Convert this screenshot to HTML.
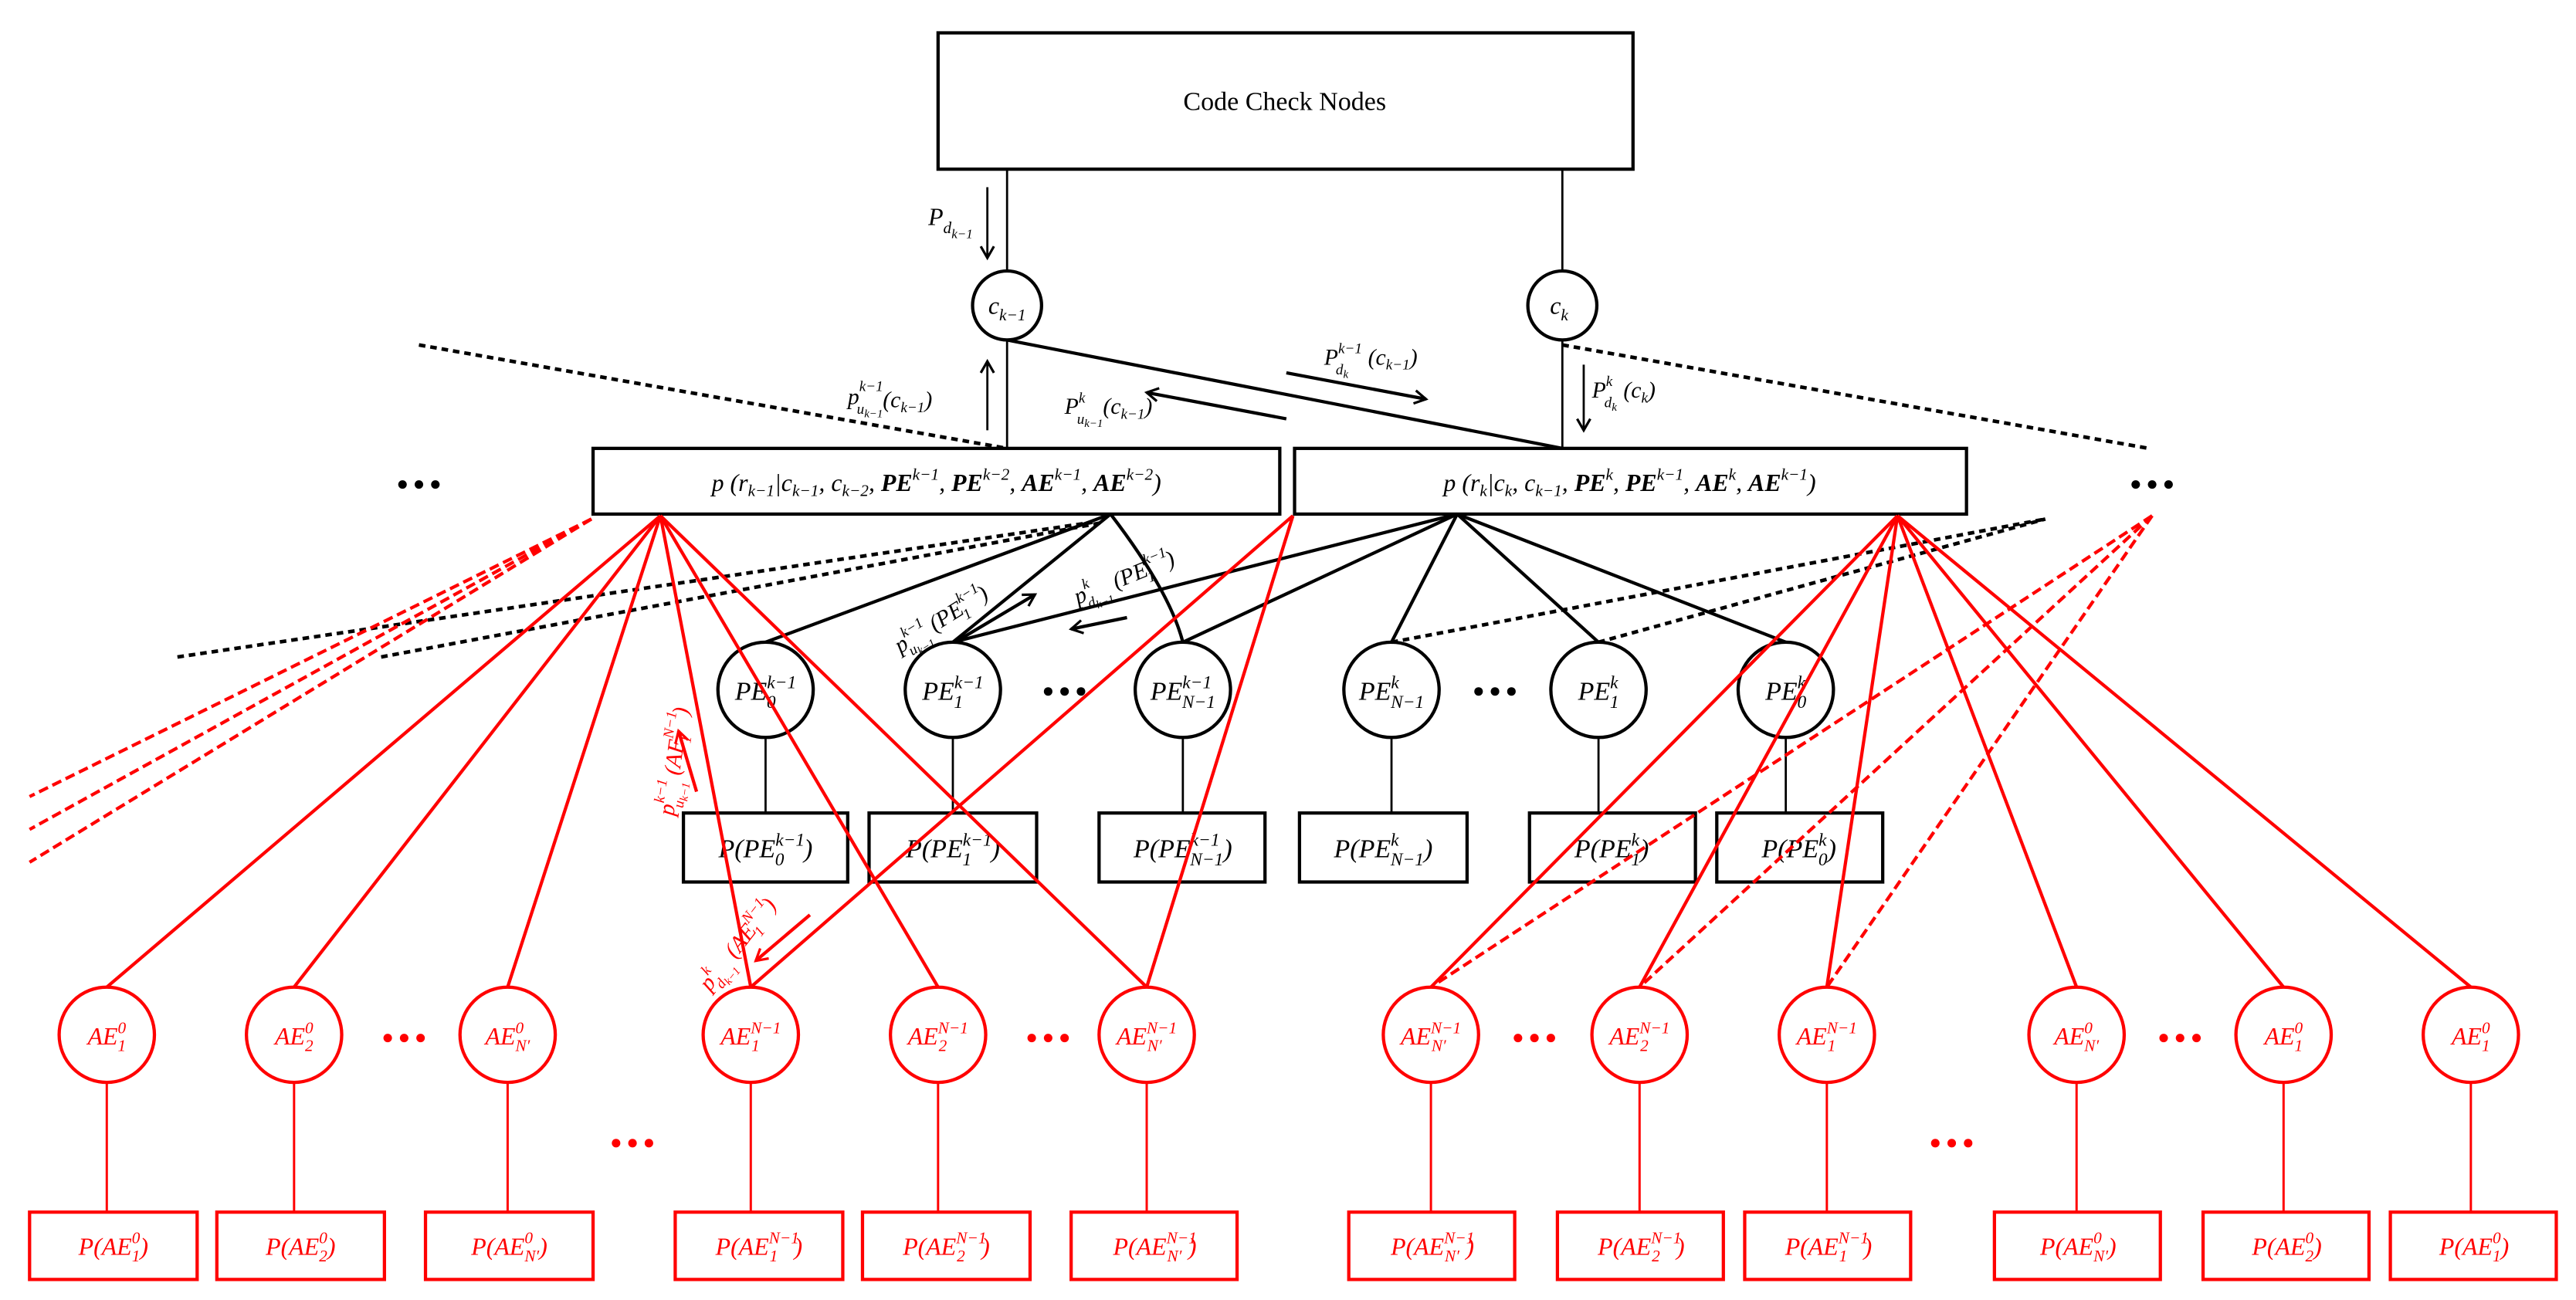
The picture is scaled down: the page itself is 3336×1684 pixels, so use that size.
<!DOCTYPE html>
<html><head><meta charset="utf-8"><style>
html,body{margin:0;padding:0;background:#fff;}
svg{display:block;}
text{font-family:"Liberation Serif",serif;}
.i{font-style:italic;}
.b{fill:none;stroke:#000;stroke-width:2;}
.t{fill:none;stroke:#000;stroke-width:1.3;}
.r{fill:none;stroke:#f00;stroke-width:2;}
.rt{fill:none;stroke:#f00;stroke-width:1.4;}
.d{fill:none;stroke:#000;stroke-width:2.2;stroke-dasharray:4,3;}
.rd{fill:none;stroke:#f00;stroke-width:2;stroke-dasharray:6,3;}
.bk{fill:#000;}
.rf{fill:#f00;}
</style></head><body>
<svg width="3336" height="1684" viewBox="0 0 1568 791.5" preserveAspectRatio="none" xmlns="http://www.w3.org/2000/svg">
<defs>
<marker id="ab" markerWidth="10" markerHeight="10" refX="8" refY="5" orient="auto" markerUnits="userSpaceOnUse"><path d="M1,1 L8,5 L1,9" fill="none" stroke="#000" stroke-width="1.5"/></marker>
<marker id="ar" markerWidth="10" markerHeight="10" refX="8" refY="5" orient="auto" markerUnits="userSpaceOnUse"><path d="M1,1 L8,5 L1,9" fill="none" stroke="#f00" stroke-width="1.5"/></marker>
</defs>

<!-- Code Check Nodes -->
<rect x="571" y="20" width="423" height="83" class="b"/>
<text x="782" y="67" font-size="16" text-anchor="middle">Code Check Nodes</text>
<line x1="613" y1="103" x2="613" y2="165" class="t"/>
<line x1="951" y1="103" x2="951" y2="165" class="t"/>
<circle cx="613" cy="186" r="21" class="b"/>
<circle cx="951" cy="186" r="21" class="b"/>
<text x="613" y="191" font-size="15" text-anchor="middle" class="i">c<tspan font-size="10" dy="4">k−1</tspan></text>
<text x="949" y="191" font-size="15" text-anchor="middle" class="i">c<tspan font-size="10" dy="4">k</tspan></text>

<line x1="601" y1="114" x2="601" y2="157" class="t" marker-end="url(#ab)"/>
<text x="565" y="137" font-size="15" class="i">P<tspan font-size="10" dy="5">d<tspan font-size="8" dy="3">k−1</tspan></tspan></text>

<line x1="613" y1="207" x2="613" y2="273" class="t"/>
<line x1="951" y1="207" x2="951" y2="273" class="t"/>
<line x1="613" y1="207" x2="951" y2="273" class="b"/>

<line x1="601" y1="262" x2="601" y2="220" class="t" marker-end="url(#ab)"/>
<text x="516" y="246" font-size="14" class="i">p<tspan font-size="9" dy="-8">k−1</tspan><tspan font-size="9" dx="-16" dy="14">u<tspan font-size="7" dy="2">k−1</tspan></tspan><tspan dy="-6">(c<tspan font-size="9" dy="3">k−1</tspan><tspan dy="-3">)</tspan></tspan></text>

<line x1="783" y1="227" x2="868" y2="243" class="b" marker-end="url(#ab)"/>
<text x="806" y="222" font-size="14" class="i">P<tspan font-size="9" dy="-7">k−1</tspan><tspan font-size="9" dx="-16" dy="13">d<tspan font-size="7" dy="2">k</tspan></tspan><tspan dx="12" dy="-8">(c<tspan font-size="9" dy="3">k−1</tspan><tspan dy="-3">)</tspan></tspan></text>

<line x1="783" y1="255" x2="698" y2="239" class="b" marker-end="url(#ab)"/>
<text x="648" y="252" font-size="14" class="i">P<tspan font-size="9" dy="-7">k</tspan><tspan font-size="9" dx="-5" dy="13">u<tspan font-size="7" dy="2">k−1</tspan></tspan><tspan dy="-8">(c<tspan font-size="9" dy="3">k−1</tspan><tspan dy="-3">)</tspan></tspan></text>

<line x1="964" y1="222" x2="964" y2="262" class="t" marker-end="url(#ab)"/>
<text x="969" y="242" font-size="14" class="i">P<tspan font-size="9" dy="-7">k</tspan><tspan font-size="9" dx="-5" dy="13">d<tspan font-size="7" dy="2">k</tspan></tspan><tspan dx="4" dy="-8">(c<tspan font-size="9" dy="3">k</tspan><tspan dy="-3">)</tspan></tspan></text>

<line x1="255" y1="210" x2="613" y2="273" class="d"/>
<line x1="951" y1="210" x2="1308" y2="273" class="d"/>

<!-- factor boxes -->
<rect x="361" y="273" width="418" height="40" class="b"/>
<rect x="788" y="273" width="409" height="40" class="b"/>
<text x="570" y="299" font-size="15" text-anchor="middle" class="i">p (r<tspan font-size="10" dy="3">k−1</tspan><tspan dy="-3">|c</tspan><tspan font-size="10" dy="3">k−1</tspan><tspan dy="-3">, c</tspan><tspan font-size="10" dy="3">k−2</tspan><tspan dy="-3">, </tspan><tspan font-weight="bold">PE</tspan><tspan font-size="10" dy="-7">k−1</tspan><tspan dy="7">, </tspan><tspan font-weight="bold">PE</tspan><tspan font-size="10" dy="-7">k−2</tspan><tspan dy="7">, </tspan><tspan font-weight="bold">AE</tspan><tspan font-size="10" dy="-7">k−1</tspan><tspan dy="7">, </tspan><tspan font-weight="bold">AE</tspan><tspan font-size="10" dy="-7">k−2</tspan><tspan dy="7">)</tspan></text>
<text x="992" y="299" font-size="15" text-anchor="middle" class="i">p (r<tspan font-size="10" dy="3">k</tspan><tspan dy="-3">|c</tspan><tspan font-size="10" dy="3">k</tspan><tspan dy="-3">, c</tspan><tspan font-size="10" dy="3">k−1</tspan><tspan dy="-3">, </tspan><tspan font-weight="bold">PE</tspan><tspan font-size="10" dy="-7">k</tspan><tspan dy="7">, </tspan><tspan font-weight="bold">PE</tspan><tspan font-size="10" dy="-7">k−1</tspan><tspan dy="7">, </tspan><tspan font-weight="bold">AE</tspan><tspan font-size="10" dy="-7">k</tspan><tspan dy="7">, </tspan><tspan font-weight="bold">AE</tspan><tspan font-size="10" dy="-7">k−1</tspan><tspan dy="7">)</tspan></text>

<g class="bk"><circle cx="245" cy="295" r="2.6"/><circle cx="255" cy="295" r="2.6"/><circle cx="265" cy="295" r="2.6"/>
<circle cx="1300" cy="295" r="2.6"/><circle cx="1310" cy="295" r="2.6"/><circle cx="1320" cy="295" r="2.6"/></g>

<!-- black dashed lower -->
<line x1="108" y1="400" x2="665" y2="318" class="d"/>
<line x1="232" y1="400" x2="672" y2="318" class="d"/>
<line x1="847" y1="391" x2="1245" y2="316" class="d"/>
<line x1="973" y1="391" x2="1245" y2="316" class="d"/>

<!-- black connections to PE -->
<line x1="676" y1="313" x2="466" y2="391" class="b"/>
<line x1="676" y1="313" x2="580" y2="391" class="b"/>
<path d="M676,313 Q712,360 720,391" class="b"/>
<line x1="887" y1="313" x2="580" y2="391" class="b"/>
<line x1="887" y1="313" x2="720" y2="391" class="b"/>
<line x1="887" y1="313" x2="847" y2="391" class="b"/>
<line x1="887" y1="313" x2="973" y2="391" class="b"/>
<line x1="887" y1="313" x2="1087" y2="391" class="b"/>

<line x1="583" y1="390" x2="630" y2="362" class="b" marker-end="url(#ab)"/>
<text x="0" y="0" font-size="14" class="i" transform="translate(548,398) rotate(-32)">p<tspan font-size="9" dy="-7">k−1</tspan><tspan font-size="9" dx="-16" dy="12">u<tspan font-size="7" dy="2">k−1</tspan></tspan><tspan dy="-7"> (PE</tspan><tspan font-size="9" dy="-7">k−1</tspan><tspan font-size="9" dx="-16" dy="11">1</tspan><tspan dx="10" dy="-4">)</tspan></text>
<line x1="686" y1="376" x2="652" y2="383" class="b" marker-end="url(#ab)"/>
<text x="0" y="0" font-size="14" class="i" transform="translate(656,368) rotate(-22)">p<tspan font-size="9" dy="-7">k</tspan><tspan font-size="9" dx="-5" dy="12">d<tspan font-size="7" dy="2">k−1</tspan></tspan><tspan dy="-7"> (PE</tspan><tspan font-size="9" dy="-7">k−1</tspan><tspan font-size="9" dx="-16" dy="11">1</tspan><tspan dx="10" dy="-4">)</tspan></text>

<!-- PE circles -->
<g>
<circle cx="466" cy="420" r="29" class="b"/><circle cx="580" cy="420" r="29" class="b"/><circle cx="720" cy="420" r="29" class="b"/>
<circle cx="847" cy="420" r="29" class="b"/><circle cx="973" cy="420" r="29" class="b"/><circle cx="1087" cy="420" r="29" class="b"/>
</g>
<g font-size="16" class="i" text-anchor="middle">
<text x="466" y="426">PE<tspan font-size="11" dy="-7">k−1</tspan><tspan font-size="11" dx="-18" dy="12">0</tspan></text>
<text x="580" y="426">PE<tspan font-size="11" dy="-7">k−1</tspan><tspan font-size="11" dx="-18" dy="12">1</tspan></text>
<text x="720" y="426">PE<tspan font-size="11" dy="-7">k−1</tspan><tspan font-size="11" dx="-18" dy="12">N−1</tspan></text>
<text x="847" y="426">PE<tspan font-size="11" dy="-7">k</tspan><tspan font-size="11" dx="-5" dy="12">N−1</tspan></text>
<text x="973" y="426">PE<tspan font-size="11" dy="-7">k</tspan><tspan font-size="11" dx="-5" dy="12">1</tspan></text>
<text x="1087" y="426">PE<tspan font-size="11" dy="-7">k</tspan><tspan font-size="11" dx="-5" dy="12">0</tspan></text>
</g>
<g class="bk"><circle cx="638" cy="421" r="2.6"/><circle cx="648" cy="421" r="2.6"/><circle cx="658" cy="421" r="2.6"/>
<circle cx="900" cy="421" r="2.6"/><circle cx="910" cy="421" r="2.6"/><circle cx="920" cy="421" r="2.6"/></g>

<g class="t">
<line x1="466" y1="449" x2="466" y2="495"/><line x1="580" y1="449" x2="580" y2="495"/><line x1="720" y1="449" x2="720" y2="495"/>
<line x1="847" y1="449" x2="847" y2="495"/><line x1="973" y1="449" x2="973" y2="495"/><line x1="1087" y1="449" x2="1087" y2="495"/>
</g>
<g class="b">
<rect x="416" y="495" width="100" height="42"/><rect x="529" y="495" width="102" height="42"/><rect x="669" y="495" width="101" height="42"/>
<rect x="791" y="495" width="102" height="42"/><rect x="931" y="495" width="101" height="42"/><rect x="1045" y="495" width="101" height="42"/>
</g>
<g font-size="16" class="i" text-anchor="middle">
<text x="466" y="522">P(PE<tspan font-size="11" dy="-7">k−1</tspan><tspan font-size="11" dx="-18" dy="12">0</tspan><tspan dx="12" dy="-5">)</tspan></text>
<text x="580" y="522">P(PE<tspan font-size="11" dy="-7">k−1</tspan><tspan font-size="11" dx="-18" dy="12">1</tspan><tspan dx="12" dy="-5">)</tspan></text>
<text x="720" y="522">P(PE<tspan font-size="11" dy="-7">k−1</tspan><tspan font-size="11" dx="-18" dy="12">N−1</tspan><tspan dy="-5">)</tspan></text>
<text x="842" y="522">P(PE<tspan font-size="11" dy="-7">k</tspan><tspan font-size="11" dx="-5" dy="12">N−1</tspan><tspan dy="-5">)</tspan></text>
<text x="981" y="522">P(PE<tspan font-size="11" dy="-7">k</tspan><tspan font-size="11" dx="-5" dy="12">1</tspan><tspan dy="-5">)</tspan></text>
<text x="1095" y="522">P(PE<tspan font-size="11" dy="-7">k</tspan><tspan font-size="11" dx="-5" dy="12">0</tspan><tspan dy="-5">)</tspan></text>
</g>

<!-- red connections -->
<g class="r">
<line x1="402" y1="314" x2="65" y2="601"/><line x1="402" y1="314" x2="179" y2="601"/><line x1="402" y1="314" x2="309" y2="601"/>
<line x1="402" y1="314" x2="457" y2="601"/><line x1="402" y1="314" x2="571" y2="601"/><line x1="402" y1="314" x2="698" y2="601"/>
<line x1="787" y1="314" x2="457" y2="601"/><line x1="787" y1="314" x2="698" y2="601"/>
<line x1="1155" y1="314" x2="871" y2="601"/><line x1="1155" y1="314" x2="998" y2="601"/><line x1="1155" y1="314" x2="1112" y2="601"/>
<line x1="1155" y1="314" x2="1264" y2="601"/><line x1="1155" y1="314" x2="1390" y2="601"/><line x1="1155" y1="314" x2="1504" y2="601"/>
</g>
<g class="rd">
<line x1="1310" y1="314" x2="871" y2="601"/><line x1="1310" y1="314" x2="998" y2="601"/><line x1="1310" y1="314" x2="1112" y2="601"/>
<line x1="360" y1="316" x2="18" y2="485"/><line x1="360" y1="316" x2="18" y2="505"/><line x1="360" y1="316" x2="18" y2="525"/>
</g>

<line x1="424" y1="482" x2="413" y2="445" class="r" marker-end="url(#ar)"/>
<text x="0" y="0" font-size="14" class="i" fill="#f00" transform="translate(410,497) rotate(-82)">p<tspan font-size="9" dy="-7">k−1</tspan><tspan font-size="9" dx="-16" dy="12">u<tspan font-size="7" dy="2">k−1</tspan></tspan><tspan dy="-7"> (AE</tspan><tspan font-size="9" dy="-7">N−1</tspan><tspan font-size="9" dx="-18" dy="11">1</tspan><tspan dx="12" dy="-4">)</tspan></text>
<line x1="493" y1="557" x2="460" y2="585" class="r" marker-end="url(#ar)"/>
<text x="0" y="0" font-size="14" class="i" fill="#f00" transform="translate(432,604) rotate(-52)">p<tspan font-size="9" dy="-7">k</tspan><tspan font-size="9" dx="-5" dy="12">d<tspan font-size="7" dy="2">k−1</tspan></tspan><tspan dy="-7"> (AE</tspan><tspan font-size="9" dy="-7">N−1</tspan><tspan font-size="9" dx="-18" dy="11">1</tspan><tspan dx="12" dy="-4">)</tspan></text>

<!-- AE circles -->
<g class="r">
<circle cx="65" cy="630" r="29"/><circle cx="179" cy="630" r="29"/><circle cx="309" cy="630" r="29"/>
<circle cx="457" cy="630" r="29"/><circle cx="571" cy="630" r="29"/><circle cx="698" cy="630" r="29"/>
<circle cx="871" cy="630" r="29"/><circle cx="998" cy="630" r="29"/><circle cx="1112" cy="630" r="29"/>
<circle cx="1264" cy="630" r="29"/><circle cx="1390" cy="630" r="29"/><circle cx="1504" cy="630" r="29"/>
</g>
<g font-size="15" class="i" text-anchor="middle" fill="#f00">
<text x="65" y="636">AE<tspan font-size="10" dy="-7">0</tspan><tspan font-size="10" dx="-5" dy="11">1</tspan></text>
<text x="179" y="636">AE<tspan font-size="10" dy="-7">0</tspan><tspan font-size="10" dx="-5" dy="11">2</tspan></text>
<text x="309" y="636">AE<tspan font-size="10" dy="-7">0</tspan><tspan font-size="10" dx="-5" dy="11">N′</tspan></text>
<text x="457" y="636">AE<tspan font-size="10" dy="-7">N−1</tspan><tspan font-size="10" dx="-18" dy="11">1</tspan><tspan dx="10"> </tspan></text>
<text x="571" y="636">AE<tspan font-size="10" dy="-7">N−1</tspan><tspan font-size="10" dx="-18" dy="11">2</tspan><tspan dx="10"> </tspan></text>
<text x="698" y="636">AE<tspan font-size="10" dy="-7">N−1</tspan><tspan font-size="10" dx="-18" dy="11">N′</tspan><tspan dx="4"> </tspan></text>
<text x="871" y="636">AE<tspan font-size="10" dy="-7">N−1</tspan><tspan font-size="10" dx="-18" dy="11">N′</tspan><tspan dx="4"> </tspan></text>
<text x="998" y="636">AE<tspan font-size="10" dy="-7">N−1</tspan><tspan font-size="10" dx="-18" dy="11">2</tspan><tspan dx="10"> </tspan></text>
<text x="1112" y="636">AE<tspan font-size="10" dy="-7">N−1</tspan><tspan font-size="10" dx="-18" dy="11">1</tspan><tspan dx="10"> </tspan></text>
<text x="1264" y="636">AE<tspan font-size="10" dy="-7">0</tspan><tspan font-size="10" dx="-5" dy="11">N′</tspan></text>
<text x="1390" y="636">AE<tspan font-size="10" dy="-7">0</tspan><tspan font-size="10" dx="-5" dy="11">1</tspan></text>
<text x="1504" y="636">AE<tspan font-size="10" dy="-7">0</tspan><tspan font-size="10" dx="-5" dy="11">1</tspan></text>
</g>
<g class="rf">
<circle cx="236" cy="632" r="2.6"/><circle cx="246" cy="632" r="2.6"/><circle cx="256" cy="632" r="2.6"/>
<circle cx="628" cy="632" r="2.6"/><circle cx="638" cy="632" r="2.6"/><circle cx="648" cy="632" r="2.6"/>
<circle cx="924" cy="632" r="2.6"/><circle cx="934" cy="632" r="2.6"/><circle cx="944" cy="632" r="2.6"/>
<circle cx="1317" cy="632" r="2.6"/><circle cx="1327" cy="632" r="2.6"/><circle cx="1337" cy="632" r="2.6"/>
<circle cx="375" cy="696" r="2.6"/><circle cx="385" cy="696" r="2.6"/><circle cx="395" cy="696" r="2.6"/>
<circle cx="1178" cy="696" r="2.6"/><circle cx="1188" cy="696" r="2.6"/><circle cx="1198" cy="696" r="2.6"/>
</g>
<g class="rt">
<line x1="65" y1="659" x2="65" y2="738"/><line x1="179" y1="659" x2="179" y2="738"/><line x1="309" y1="659" x2="309" y2="738"/>
<line x1="457" y1="659" x2="457" y2="738"/><line x1="571" y1="659" x2="571" y2="738"/><line x1="698" y1="659" x2="698" y2="738"/>
<line x1="871" y1="659" x2="871" y2="738"/><line x1="998" y1="659" x2="998" y2="738"/><line x1="1112" y1="659" x2="1112" y2="738"/>
<line x1="1264" y1="659" x2="1264" y2="738"/><line x1="1390" y1="659" x2="1390" y2="738"/><line x1="1504" y1="659" x2="1504" y2="738"/>
</g>
<g class="r">
<rect x="18" y="738" width="102" height="41"/><rect x="132" y="738" width="102" height="41"/><rect x="259" y="738" width="102" height="41"/>
<rect x="411" y="738" width="102" height="41"/><rect x="525" y="738" width="102" height="41"/><rect x="652" y="738" width="101" height="41"/>
<rect x="821" y="738" width="101" height="41"/><rect x="948" y="738" width="101" height="41"/><rect x="1062" y="738" width="101" height="41"/>
<rect x="1214" y="738" width="101" height="41"/><rect x="1341" y="738" width="101" height="41"/><rect x="1455" y="738" width="101" height="41"/>
</g>
<g font-size="15" class="i" text-anchor="middle" fill="#f00">
<text x="69" y="764">P(AE<tspan font-size="10" dy="-7">0</tspan><tspan font-size="10" dx="-5" dy="11">1</tspan><tspan dy="-4">)</tspan></text>
<text x="183" y="764">P(AE<tspan font-size="10" dy="-7">0</tspan><tspan font-size="10" dx="-5" dy="11">2</tspan><tspan dy="-4">)</tspan></text>
<text x="310" y="764">P(AE<tspan font-size="10" dy="-7">0</tspan><tspan font-size="10" dx="-5" dy="11">N′</tspan><tspan dy="-4">)</tspan></text>
<text x="462" y="764">P(AE<tspan font-size="10" dy="-7">N−1</tspan><tspan font-size="10" dx="-18" dy="11">1</tspan><tspan dx="10" dy="-4">)</tspan></text>
<text x="576" y="764">P(AE<tspan font-size="10" dy="-7">N−1</tspan><tspan font-size="10" dx="-18" dy="11">2</tspan><tspan dx="10" dy="-4">)</tspan></text>
<text x="703" y="764">P(AE<tspan font-size="10" dy="-7">N−1</tspan><tspan font-size="10" dx="-18" dy="11">N′</tspan><tspan dx="4" dy="-4">)</tspan></text>
<text x="872" y="764">P(AE<tspan font-size="10" dy="-7">N−1</tspan><tspan font-size="10" dx="-18" dy="11">N′</tspan><tspan dx="4" dy="-4">)</tspan></text>
<text x="999" y="764">P(AE<tspan font-size="10" dy="-7">N−1</tspan><tspan font-size="10" dx="-18" dy="11">2</tspan><tspan dx="10" dy="-4">)</tspan></text>
<text x="1113" y="764">P(AE<tspan font-size="10" dy="-7">N−1</tspan><tspan font-size="10" dx="-18" dy="11">1</tspan><tspan dx="10" dy="-4">)</tspan></text>
<text x="1265" y="764">P(AE<tspan font-size="10" dy="-7">0</tspan><tspan font-size="10" dx="-5" dy="11">N′</tspan><tspan dy="-4">)</tspan></text>
<text x="1392" y="764">P(AE<tspan font-size="10" dy="-7">0</tspan><tspan font-size="10" dx="-5" dy="11">2</tspan><tspan dy="-4">)</tspan></text>
<text x="1506" y="764">P(AE<tspan font-size="10" dy="-7">0</tspan><tspan font-size="10" dx="-5" dy="11">1</tspan><tspan dy="-4">)</tspan></text>
</g>
</svg>
</body></html>
